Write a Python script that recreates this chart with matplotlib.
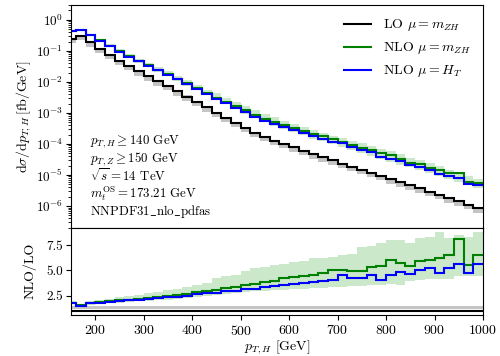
import numpy as np
import matplotlib
matplotlib.use('Agg')
import matplotlib.pyplot as plt

plt.rcParams['font.family'] = ['cmr10', 'DejaVu Serif']
plt.rcParams['mathtext.fontset'] = 'cm'
plt.rcParams['axes.formatter.use_mathtext'] = True
plt.rcParams['font.size'] = 10

# bin edges in p_T,H [GeV]
edges = np.arange(140, 1001, 20)

# LO, mu = m_ZH  [fb/GeV]
lo = [0.240, 0.302, 0.186, 0.117, 0.0741, 0.0479, 0.0324, 0.0219, 0.0151, 0.0105,
      7.41e-3, 5.01e-3, 3.39e-3, 2.29e-3, 1.51e-3, 1.02e-3, 7.08e-4, 4.90e-4, 3.39e-4, 2.34e-4,
      1.70e-4, 1.29e-4, 1.00e-4, 7.76e-5, 6.03e-5, 4.68e-5, 3.72e-5, 2.95e-5, 2.34e-5, 1.86e-5,
      1.48e-5, 1.17e-5, 9.33e-6, 7.41e-6, 5.89e-6, 4.68e-6, 3.72e-6, 2.88e-6, 2.29e-6, 1.78e-6,
      1.41e-6, 1.10e-6, 8.5e-7]

# NLO/LO, mu = m_ZH
k_mzh = [1.80, 1.52, 1.75, 1.85, 1.93, 2.02, 2.10, 2.18, 2.28, 2.38,
         2.45, 2.55, 2.65, 2.82, 2.92, 3.05, 3.20, 3.35, 3.55, 3.65,
         3.80, 3.95, 4.20, 4.30, 4.45, 4.55, 4.75, 5.05, 5.00, 4.90,
         4.90, 5.35, 5.40, 6.00, 5.70, 5.40, 5.95, 6.05, 6.20, 6.50,
         8.10, 5.55, 6.50]

# NLO/LO, mu = H_T
k_ht = [1.78, 1.50, 1.72, 1.80, 1.88, 1.95, 2.02, 2.10, 2.18, 2.25,
        2.32, 2.40, 2.48, 2.62, 2.70, 2.78, 2.90, 2.98, 3.10, 3.18,
        3.30, 3.45, 3.55, 3.65, 3.75, 3.85, 3.90, 4.07, 4.56, 4.23,
        4.23, 4.56, 4.07, 4.56, 4.79, 4.62, 5.05, 5.21, 4.72, 5.21,
        5.60, 4.72, 5.60]

# scale band of NLO mu = m_ZH, relative to LO
k_band_up = [1.95, 1.65, 1.92, 2.05, 2.18, 2.32, 2.45, 2.58, 2.72, 2.86,
             3.00, 3.15, 3.30, 3.55, 3.75, 4.20, 4.40, 4.55, 4.90, 5.20,
             5.30, 5.55, 5.60, 5.85, 5.90, 6.20, 6.25, 6.30, 6.55, 6.60,
             7.30, 7.40, 7.65, 8.00, 8.00, 7.70, 8.20, 8.25, 8.75, 8.20,
             8.50, 8.30, 8.80]
k_band_dn = [1.65, 1.40, 1.60, 1.68, 1.74, 1.80, 1.86, 1.92, 1.98, 2.04,
             2.10, 2.16, 2.22, 2.35, 2.42, 2.55, 2.65, 2.75, 2.80, 2.90,
             2.92, 3.00, 3.05, 3.10, 3.15, 3.20, 3.25, 3.30, 3.35, 3.40,
             3.45, 3.50, 3.55, 3.60, 3.55, 3.90, 4.05, 4.10, 4.10, 4.10,
             4.40, 4.40, 4.40]

# LO scale band (relative)
lo_band = [0.72, 1.08]
lo_ratio_band = [1.18, 1.42]

lo = np.array(lo)
nlo_mzh = lo*np.array(k_mzh)
nlo_ht = lo*np.array(k_ht)
ones = np.ones(len(lo))

fig = plt.figure(figsize=(5, 3.56), dpi=100)
ax = fig.add_axes([0.142, 0.360, 0.824, 0.626])
axr = fig.add_axes([0.142, 0.116, 0.824, 0.244], sharex=ax)

ax.stairs(lo*lo_band[1], edges, baseline=lo*lo_band[0], fill=True, color='#c4c4c4', lw=0)
ax.stairs(lo*np.array(k_band_up), edges, baseline=lo*np.array(k_band_dn), fill=True,
          color='#b5dfb5', alpha=0.7, lw=0)
ax.stairs(lo, edges, baseline=None, color='black', lw=1.5, label=r'LO $\mu = m_{ZH}$')
ax.stairs(nlo_mzh, edges, baseline=None, color='green', lw=1.5, label=r'NLO $\mu = m_{ZH}$')
ax.stairs(nlo_ht, edges, baseline=None, color='blue', lw=1.5, label=r'NLO $\mu = H_T$')

ax.set_yscale('log')
ax.set_ylim(2e-7, 3.0)
ax.set_xlim(150, 1000)
ax.set_ylabel(r'$\mathrm{d}\sigma/\mathrm{d}p_{T,H}\,[\mathrm{fb/GeV}]$', labelpad=2)
ax.tick_params(labelbottom=False)
ax.tick_params(axis='y', labelsize=9.5, pad=2)
ax.legend(loc='upper right', frameon=False, handlelength=2.0, fontsize=10)

info = [r'$p_{T,H} \geq 140$ GeV', r'$p_{T,Z} \geq 150$ GeV', r'$\sqrt{s} = 14$ TeV',
        r'$m_t^{\mathrm{OS}} = 173.21$ GeV', r'$\mathrm{NNPDF31\_nlo\_pdfas}$']
info_y = [0.385, 0.308, 0.235, 0.152, 0.072]
for t, yy in zip(info, info_y):
    ax.text(0.045, yy, t, transform=ax.transAxes, fontsize=9.3, va='center')

axr.stairs(lo_ratio_band[1]*ones, edges, baseline=lo_ratio_band[0]*ones,
           fill=True, color='#c4c4c4', lw=0)
axr.stairs(k_band_up, edges, baseline=k_band_dn, fill=True, color='#b5dfb5', alpha=0.7, lw=0)
axr.stairs(ones, edges, baseline=None, color='black', lw=1.5)
axr.stairs(k_mzh, edges, baseline=None, color='green', lw=1.5)
axr.stairs(k_ht, edges, baseline=None, color='blue', lw=1.5)
axr.set_ylim(0.6, 9.2)
axr.set_yticks([2.5, 5.0, 7.5])
axr.set_yticklabels(['2.5', '5.0', '7.5'])
axr.tick_params(axis='y', labelsize=9.5, pad=2)
axr.set_xticks([200, 300, 400, 500, 600, 700, 800, 900, 1000])
axr.set_ylabel('NLO/LO', labelpad=7)
axr.set_xlabel(r'$p_{T,H}$ [GeV]', labelpad=0)

fig.savefig('out.png', dpi=100)
